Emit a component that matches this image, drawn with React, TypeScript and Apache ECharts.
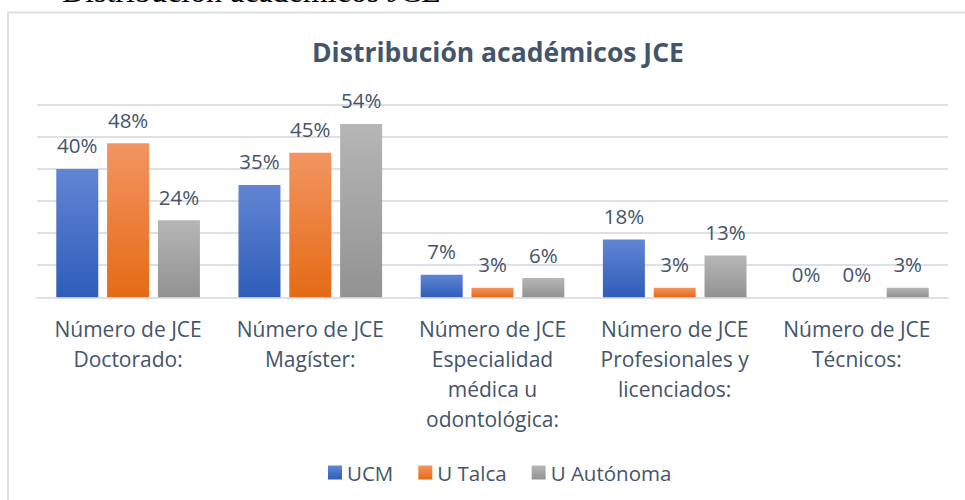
import React, { useEffect, useRef } from "react";
import * as echarts from "echarts";

const categories = [
  "Número de JCE\nDoctorado:",
  "Número de JCE\nMagíster:",
  "Número de JCE\nEspecialidad\nmédica u\nodontológica:",
  "Número de JCE\nProfesionales y\nlicenciados:",
  "Número de JCE\nTécnicos:",
];
const seriesNames = ["UCM", "U Talca", "U Autónoma"];
const ucm = [40, 35, 7, 18, 0];
const uTalca = [48, 45, 3, 3, 0];
const uAutonoma = [24, 54, 6, 13, 3];
const yMax = 60;
const yInterval = 10;

const gradients: [string, string][] = [
  ["#6185D3", "#2E5DBA"],
  ["#F29562", "#E56A15"],
  ["#B6B6B6", "#929292"],
];

const textColor = "#44546A";

export default function App() {
  const ref = useRef<HTMLDivElement>(null);
  useEffect(() => {
    if (!ref.current) return;
    const chart = echarts.init(ref.current, undefined, { renderer: "svg" });
    const data = [ucm, uTalca, uAutonoma];
    chart.setOption({
      animation: false,
      backgroundColor: "#ffffff",
      title: {
        text: "Distribución académicos JCE",
        left: 307,
        top: 33,
        textStyle: {
          fontFamily: "Open Sans",
          fontWeight: "bold",
          fontSize: 26.5,
          color: textColor,
        },
      },
      graphic: [
        {
          type: "rect",
          shape: { x: 8, y: 12.5, width: 975, height: 510 },
          style: { fill: "none", stroke: "#DCE1E8", lineWidth: 2 },
          silent: true,
        },
        {
          type: "text",
          style: {
            x: 62,
            y: -9,
            text: "Distribución académicos JCE",
            font: "32px 'Liberation Serif'",
            fill: "#000000",
            verticalAlign: "middle",
          },
          silent: true,
        },
      ],
      legend: {
        data: seriesNames,
        left: 323,
        top: 457,
        itemWidth: 14,
        itemHeight: 14,
        itemGap: 25,
        icon: "rect",
        textStyle: { fontFamily: "Open Sans", fontSize: 20.5, color: textColor },
      },
      grid: { left: 37, right: 17, top: 104.7, bottom: 202.7, containLabel: false },
      xAxis: {
        type: "category",
        data: categories,
        axisLine: { lineStyle: { color: "#DDE1E7", width: 2 } },
        axisTick: { show: false },
        axisLabel: {
          interval: 0,
          margin: 17,
          fontFamily: "Open Sans",
          fontSize: 21,
          lineHeight: 30,
          color: textColor,
        },
      },
      yAxis: {
        type: "value",
        min: 0,
        max: yMax,
        interval: yInterval,
        axisLabel: { show: false },
        axisLine: { show: false },
        axisTick: { show: false },
        splitLine: { lineStyle: { color: "#DDE1E7", width: 2 } },
      },
      series: seriesNames.map((name, i) => ({
        name,
        type: "bar",
        data: data[i],
        barWidth: 42,
        barGap: "21%",
        itemStyle: {
          color: new echarts.graphic.LinearGradient(0, 0, 0, 1, [
            { offset: 0, color: gradients[i][0] },
            { offset: 1, color: gradients[i][1] },
          ]),
        },
        label: {
          show: true,
          position: "top",
          distance: 13,
          formatter: (p: any) => `${p.value}%`,
          fontFamily: "Open Sans",
          fontSize: 20.5,
          color: textColor,
        },
      })),
    });
    return () => chart.dispose();
  }, []);
  return (
    <div
      ref={ref}
      style={{ position: "fixed", left: 0, top: 0, width: 965, height: 500 }}
    />
  );
}
